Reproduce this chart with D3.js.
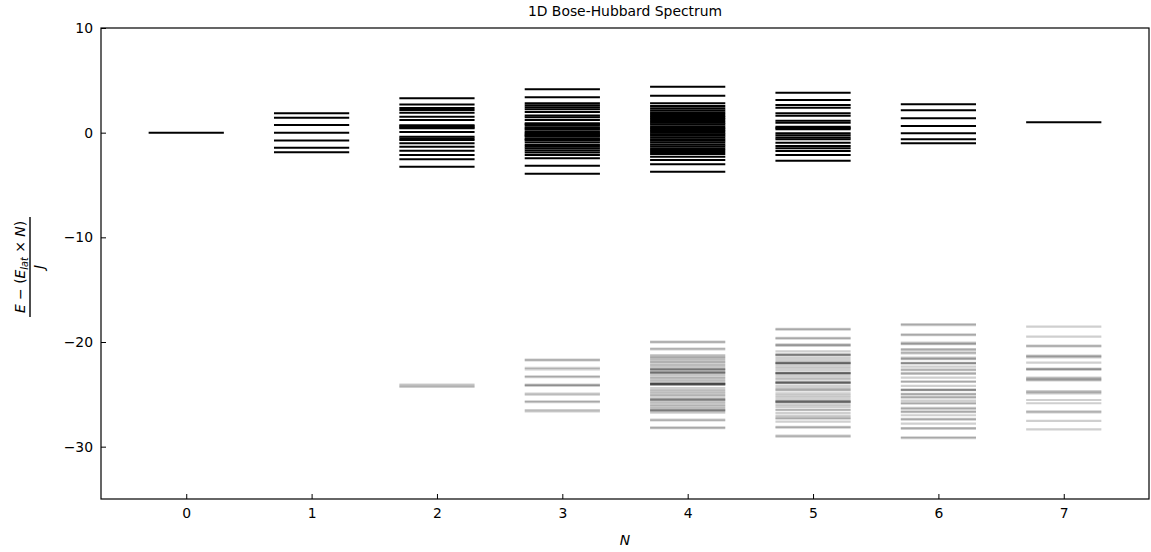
<!DOCTYPE html>
<html>
<head>
<meta charset="utf-8">
<script src="https://cdn.jsdelivr.net/npm/d3@7"></script>
<style>
  html, body { margin: 0; padding: 0; background: #fff; }
  text { font-family: "DejaVu Sans", sans-serif; }
</style>
</head>
<body>
<svg id="chart" width="1151" height="552"></svg>
<script>
// ---------------- data ----------------
const categories = [0, 1, 2, 3, 4, 5, 6, 7];
const xTicks = [0, 1, 2, 3, 4, 5, 6, 7];
const yTicks = [10, 0, -10, -20, -30];

// upper (black) band levels per N
const upperN0 = [0];
const upperN1 = [1.85, 1.43, 0.74, 0, -0.76, -1.43, -1.87];
const upperN2 = [3.29, 2.68, 2.36, 2.17, 1.91, 1.53, 1.21, 0.72, 0.62, 0.50, 0.42, 0.07,
                 -0.38, -0.55, -0.70, -1.01, -1.34, -1.72, -2.13, -2.54, -3.25];
const upperN3 = [4.15, 3.38, 2.81, 2.62, 2.42, 2.24, 1.98, 1.63, 1.48, 1.21, 0.90, 0.80,
                 0.70, 0.52, 0.40, 0.30, 0.10, 0.0, -0.10, -0.22, -0.30, -0.40, -0.58, -0.65,
                 -0.76, -0.95, -1.18, -1.34, -1.52, -1.70, -1.90, -2.13, -2.45, -3.15, -3.92];
const upperN4 = [4.39, 3.53, 2.81, 2.55, 2.33, 2.15, 1.95, 1.78, 1.60, 1.45, 1.30, 1.12,
                 0.95, 0.80, 0.62, 0.45, 0.30, 0.15, 0.0, -0.15, -0.30, -0.45, -0.62, -0.78,
                 -0.95, -1.12, -1.30, -1.48, -1.65, -1.85, -2.05, -2.30, -2.61, -3.02, -3.73];
const upperN5 = [3.82, 3.12, 2.65, 2.39, 1.85, 1.62, 1.15, 0.95, 0.57, 0.45, 0.32, -0.06,
                 -0.25, -0.45, -0.63, -0.96, -1.27, -1.49, -1.75, -2.13, -2.68];
const upperN6 = [2.71, 2.14, 1.38, 0.64, -0.06, -0.63, -1.01];
const upperN7 = [0.99];

// lower (grey, translucent) band levels per N
const lowerN0 = [];
const lowerN1 = [];
const lowerN2 = [-24.06, -24.18, -24.30];
const lowerN3 = [-21.68, -21.76, -22.48, -22.62, -23.27, -23.35, -24.08, -24.13, -24.18,
                 -24.92, -25.04, -25.66, -25.74, -26.50, -26.64];
const lowerN4 = [-19.97, -20.04, -20.62, -20.70, -21.25, -21.40, -21.48, -21.62, -21.78,
                 -21.90, -22.05, -22.20, -22.35, -22.55, -22.60, -22.62, -22.68, -22.85,
                 -22.90, -22.92, -22.98, -23.12, -23.30, -23.45, -23.60, -23.75, -23.90,
                 -23.98, -24.00, -24.02, -24.03, -24.05, -24.10, -24.40, -24.60, -24.75,
                 -24.90, -25.05, -25.20, -25.40, -25.48, -25.50, -25.55, -25.70, -25.85,
                 -26.00, -26.15, -26.30, -26.45, -26.50, -26.52, -26.60, -26.75, -27.42,
                 -27.50, -28.15, -28.22];
const lowerN5 = [-18.75, -18.82, -19.60, -19.68, -20.22, -20.30, -20.36, -20.90, -21.15,
                 -21.22, -21.24, -21.30, -21.55, -21.75, -21.95, -22.00, -22.02, -22.05,
                 -22.08, -22.30, -22.50, -22.70, -22.92, -22.96, -22.98, -23.00, -23.05,
                 -23.25, -23.45, -23.60, -23.82, -23.85, -23.88, -23.90, -23.94, -24.20,
                 -24.40, -24.55, -24.62, -24.90, -25.10, -25.30, -25.50, -25.65, -25.68,
                 -25.72, -25.75, -25.78, -26.00, -26.20, -26.45, -26.52, -26.80, -27.05,
                 -27.25, -27.32, -27.60, -28.10, -28.18, -28.95, -29.05];
const lowerN6 = [-18.30, -18.38, -19.28, -19.34, -20.05, -20.15, -20.20, -20.68, -20.75,
                 -21.00, -21.08, -21.50, -21.58, -21.65, -22.00, -22.03, -22.05, -22.35,
                 -22.62, -22.70, -22.98, -23.05, -23.40, -23.75, -23.82, -24.20, -24.55,
                 -24.58, -24.60, -24.95, -25.00, -25.25, -25.32, -25.60, -25.82, -25.90,
                 -26.30, -26.38, -26.62, -26.70, -27.00, -27.35, -27.42, -27.80, -28.22,
                 -28.28, -29.10, -29.18];
const lowerN7 = [-18.53, -19.49, -20.35, -20.42, -21.30, -21.38, -21.46, -21.97, -22.55,
                 -22.60, -22.65, -23.40, -23.50, -23.60, -23.66, -24.70, -24.80, -24.90,
                 -25.54, -25.85, -26.62, -26.72, -27.54, -28.34];

const upperLevels = [upperN0, upperN1, upperN2, upperN3, upperN4, upperN5, upperN6, upperN7];
const lowerLevels = [lowerN0, lowerN1, lowerN2, lowerN3, lowerN4, lowerN5, lowerN6, lowerN7];

// ---------------- layout ----------------
const svg = d3.select("#chart");
const mLeft = 101, mRight = 1149, mTop = 28, mBottom = 499;
const halfWidth = 0.3;

const x = d3.scaleLinear().domain([-0.68, 7.68]).range([mLeft, mRight]);
const y = d3.scaleLinear().domain([-35, 10]).range([mBottom, mTop]);

const upperRows = [];
categories.forEach((n, i) => upperLevels[i].forEach(e => upperRows.push({n, e})));
const lowerRows = [];
categories.forEach((n, i) => lowerLevels[i].forEach(e => lowerRows.push({n, e})));

const plot = svg.append("g");
plot.selectAll("line.lower").data(lowerRows).join("line")
  .attr("class", "lower")
  .attr("x1", d => x(d.n - halfWidth)).attr("x2", d => x(d.n + halfWidth))
  .attr("y1", d => y(d.e)).attr("y2", d => y(d.e))
  .attr("stroke", "#000").attr("stroke-opacity", 0.19).attr("stroke-width", 2.2);

plot.selectAll("line.upper").data(upperRows).join("line")
  .attr("class", "upper")
  .attr("x1", d => x(d.n - halfWidth)).attr("x2", d => x(d.n + halfWidth))
  .attr("y1", d => y(d.e)).attr("y2", d => y(d.e))
  .attr("stroke", "#000").attr("stroke-width", 2);

// axes
const fs = "13.9px";
const xAxis = d3.axisBottom(x).tickValues(xTicks).tickFormat(d3.format("d"))
  .tickSizeInner(-5).tickSizeOuter(0).tickPadding(9);
const yAxis = d3.axisLeft(y).tickValues(yTicks).tickFormat(d3.format("d"))
  .tickSizeInner(-5).tickSizeOuter(0).tickPadding(8);

const gx = svg.append("g").attr("transform", `translate(0,${mBottom})`).call(xAxis);
const gy = svg.append("g").attr("transform", `translate(${mLeft},0)`).call(yAxis);
[gx, gy].forEach(g => {
  g.select(".domain").remove();
  g.selectAll(".tick line").attr("stroke", "#000").attr("stroke-width", 1);
  g.selectAll(".tick text").attr("fill", "#000")
    .style("font-family", "'DejaVu Sans', sans-serif").style("font-size", fs);
});

// frame
svg.append("rect").attr("x", mLeft).attr("y", mTop)
  .attr("width", mRight - mLeft).attr("height", mBottom - mTop)
  .attr("fill", "none").attr("stroke", "#000").attr("stroke-width", 1.2);

// title
svg.append("text").attr("x", (mLeft + mRight) / 2).attr("y", 16)
  .attr("text-anchor", "middle").style("font-size", fs).attr("fill", "#000")
  .text("1D Bose-Hubbard Spectrum");

// x label
svg.append("text").attr("x", (mLeft + mRight) / 2).attr("y", 545)
  .attr("text-anchor", "middle").style("font-size", fs)
  .style("font-family", "'DejaVu Sans', sans-serif").style("font-style", "italic")
  .text("N");

// y label: fraction
const yl = svg.append("g").attr("transform", "translate(30,267) rotate(-90)");
const num = yl.append("text").attr("x", 0).attr("y", -5).attr("text-anchor", "middle")
  .style("font-size", fs).attr("fill", "#000");
num.append("tspan").style("font-style", "italic").text("E");
num.append("tspan").text(" − (");
num.append("tspan").style("font-style", "italic").text("E");
num.append("tspan").style("font-style", "italic").style("font-size", "9.7px").attr("dy", 3).text("lat");
num.append("tspan").attr("dy", -3).text(" × ");
num.append("tspan").style("font-style", "italic").text("N");
num.append("tspan").text(")");
yl.append("line").attr("x1", -50).attr("x2", 50).attr("y1", 0).attr("y2", 0)
  .attr("stroke", "#000").attr("stroke-width", 1.4);
yl.append("text").attr("x", 0).attr("y", 14).attr("text-anchor", "middle")
  .style("font-size", fs).style("font-style", "italic").text("J");
</script>
</body>
</html>
